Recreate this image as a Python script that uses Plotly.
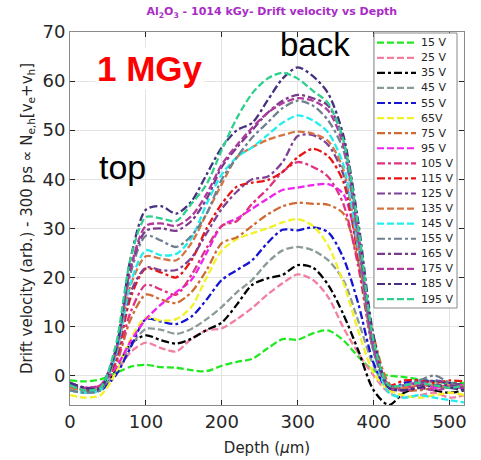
import plotly.graph_objects as go

# ---------------- data ----------------
depth = [0, 20, 40, 60, 80, 100, 120, 140, 160, 180, 200, 220, 240, 260,
         280, 300, 320, 340, 360, 380, 400, 420, 440, 460, 480, 500, 520]

labels = ["15 V", "25 V", "35 V", "45 V", "55 V", "65V", "75 V", "95 V", "105 V",
          "115 V", "125 V", "135 V", "145 V", "155 V", "165 V", "175 V", "185 V", "195 V"]

v15 = [-1.0, -1.2, -0.8, 0.5, 1.8, 2.2, 1.7, 1.6, 1.1, 0.9, 2.0, 2.8, 3.4, 5.5, 7.4, 7.3, 8.6, 9.2, 7.2, 3.8, 1.0, 0.0, -0.3, -0.8, -1.2, -1.5, -1.5]
v25 = [-2.5, -3.0, -2.5, 0.5, 4.8, 6.7, 5.6, 4.9, 7.5, 9.2, 9.6, 11.5, 13.8, 16.5, 18.8, 20.6, 19.5, 16.0, 9.8, 4.5, 0.0, -3.5, -4.5, -4.0, -3.5, -4.5, -4.0]
v35 = [-2.0, -2.8, -2.5, 1.0, 6.5, 8.2, 7.2, 6.5, 7.5, 9.3, 10.8, 14.5, 18.5, 19.8, 20.5, 22.5, 22.0, 18.5, 12.5, 5.0, -3.0, -6.0, -3.5, -2.5, -3.0, -3.5, -3.0]
v45 = [-3.0, -3.5, -3.0, 0.5, 6.0, 9.5, 9.3, 8.5, 9.5, 11.5, 14.0, 17.0, 19.5, 23.0, 25.5, 26.2, 25.5, 23.5, 19.5, 11.0, 2.0, -3.0, -2.5, -1.0, -1.5, -2.5, -2.0]
v55 = [-2.0, -3.0, -3.0, 0.0, 5.8, 11.5, 11.0, 10.5, 12.0, 15.5, 19.5, 21.5, 23.5, 27.0, 29.7, 29.6, 30.2, 29.2, 24.0, 14.5, 2.5, -3.0, -1.5, -1.0, -1.2, -1.5, -2.0]
v65 = [-4.0, -4.5, -4.0, 0.5, 7.5, 11.8, 11.2, 11.5, 14.0, 20.0, 25.5, 27.8, 29.0, 30.0, 31.2, 31.9, 30.5, 26.5, 19.0, 9.0, 0.5, -3.0, -4.0, -4.5, -4.0, -3.5, -4.0]
v75 = [-2.5, -3.0, -2.5, 2.0, 11.5, 16.5, 15.5, 14.8, 17.0, 21.5, 27.0, 28.2, 30.5, 32.8, 34.5, 35.2, 35.0, 34.8, 33.0, 23.0, 8.0, -1.5, -3.0, -3.0, -2.5, -2.0, -2.5]
v95 = [-2.0, -2.5, -2.0, 1.5, 7.0, 11.5, 14.5, 17.0, 19.5, 25.0, 30.5, 32.0, 34.0, 36.0, 37.8, 38.3, 38.8, 39.0, 37.0, 25.0, 6.0, -2.0, -2.0, -1.5, -2.5, -2.0, -2.0]
v105 = [-1.5, -2.5, -2.0, 2.5, 13.0, 18.5, 17.5, 16.5, 20.5, 26.0, 30.5, 31.5, 35.0, 38.0, 41.5, 43.5, 42.5, 40.5, 35.0, 22.0, 5.0, -2.0, -2.5, -2.0, -2.0, -2.5, -2.0]
v115 = [-2.0, -2.5, -2.5, 3.0, 16.0, 21.8, 21.0, 20.0, 23.5, 30.0, 35.0, 38.5, 39.3, 39.8, 41.5, 44.5, 46.2, 44.7, 39.5, 24.0, 5.0, -2.0, -1.0, -1.0, -1.5, -1.0, -1.2]
v125 = [-2.0, -3.0, -2.5, 3.5, 17.0, 22.0, 21.5, 21.5, 24.0, 29.0, 34.0, 37.5, 40.0, 40.5, 43.5, 48.8, 49.0, 47.0, 41.0, 25.0, 5.5, -2.5, -2.0, -1.5, -1.0, -1.5, -2.0]
v135 = [-2.5, -3.0, -2.5, 4.0, 18.5, 24.3, 23.8, 23.5, 27.0, 33.0, 39.0, 44.5, 46.5, 48.0, 49.0, 49.7, 49.3, 47.8, 42.0, 25.0, 5.0, -2.0, -2.5, -2.0, -2.0, -2.5, -2.0]
v145 = [-3.0, -3.5, -3.0, 4.0, 19.0, 25.5, 24.5, 24.8, 28.0, 35.0, 41.0, 44.5, 46.5, 49.0, 51.5, 53.0, 52.0, 49.5, 43.0, 26.0, 5.0, -3.5, -4.5, -4.0, -4.5, -5.0, -5.5]
v155 = [-3.0, -3.5, -3.0, 4.5, 21.0, 28.5, 27.5, 26.2, 28.5, 33.0, 40.0, 44.5, 48.5, 51.5, 54.5, 56.0, 55.0, 52.0, 46.0, 27.0, 5.0, -2.0, -2.0, -1.0, 0.0, -1.5, -3.0]
v165 = [-1.5, -2.5, -2.5, 5.0, 22.0, 29.5, 30.0, 29.5, 31.5, 36.0, 42.5, 46.5, 50.0, 53.5, 56.0, 57.2, 56.5, 55.0, 48.0, 29.0, 6.0, -2.0, -3.0, -2.0, -2.0, -2.0, -2.5]
v175 = [-2.0, -2.5, -2.0, 5.0, 22.0, 30.5, 31.0, 30.5, 32.5, 37.0, 43.0, 47.0, 50.5, 53.5, 55.5, 56.5, 56.0, 54.0, 47.0, 28.0, 5.5, -2.5, -3.0, -2.5, -3.0, -2.5, -2.5]
v185 = [-1.5, -2.5, -2.5, 5.0, 24.0, 33.8, 34.5, 33.0, 35.5, 41.0, 46.5, 50.0, 51.5, 56.0, 60.5, 62.8, 61.0, 57.5, 49.0, 31.0, 8.0, -2.5, -3.0, -2.5, -2.0, -2.5, -3.0]
v195 = [-2.0, -3.0, -2.5, 6.0, 24.0, 32.3, 32.0, 31.5, 35.0, 39.0, 46.0, 52.5, 57.5, 60.5, 61.7, 60.5, 58.0, 55.5, 48.0, 30.0, 7.0, -2.0, -2.0, -1.5, -2.0, -2.5, -2.0]

series = [v15, v25, v35, v45, v55, v65, v75, v95, v105, v115, v125, v135,
          v145, v155, v165, v175, v185, v195]

x_ticks = [0, 100, 200, 300, 400, 500]
y_ticks = [0, 10, 20, 30, 40, 50, 60, 70]

# ---------------- styles ----------------
colors = ["#22e822", "#f27fa0", "#000000", "#8c9a9a", "#1414d2", "#f2f226",
          "#cf6a33", "#f022f0", "#de3380", "#e81414", "#7f3f95", "#d47543",
          "#22eef0", "#6f7f8f", "#7a3a8c", "#b03a9c", "#46307f", "#2fcf8f"]
DASH_A = "7px,3px"
DASH_B = "8px,3px,3px,3px"
dashes = [DASH_A, DASH_A, DASH_B, DASH_A, DASH_B, DASH_A, DASH_B, DASH_A, DASH_B,
          DASH_B, DASH_B, DASH_A, DASH_A, DASH_B, DASH_B, DASH_A, DASH_B, DASH_A]

W, H = 481, 460
ML, MR, MT, MB = 70, 17, 32, 55
TXT = "#262626"

fig = go.Figure()
for lab, vals, c, dsh in zip(labels, series, colors, dashes):
    fig.add_trace(go.Scatter(
        x=depth, y=vals, name=lab, mode="lines",
        line=dict(color=c, width=2.3, dash=dsh, shape="spline", smoothing=0.8),
        showlegend=False,
    ))

# ---------------- manual legend (compact, like the original) ----------------
plot_h = H - MT - MB
plot_w = W - ML - MR
def px_to_py(ypx):
    return (H - MB - ypx) / plot_h
def px_to_px(xpx):
    return (xpx - ML) / plot_w

shapes = [dict(type="rect", xref="paper", yref="paper",
               x0=px_to_px(374), x1=px_to_px(457),
               y0=px_to_py(308), y1=px_to_py(33),
               fillcolor="white", line=dict(color="#8a8a8a", width=1), layer="above")]
annotations = []
row0, rowstep = 42.7, 15.08
for i, (lab, c, dsh) in enumerate(zip(labels, colors, dashes)):
    yp = px_to_py(row0 + rowstep * i)
    shapes.append(dict(type="line", xref="paper", yref="paper",
                       x0=px_to_px(377), x1=px_to_px(416), y0=yp, y1=yp,
                       line=dict(color=c, width=2.2, dash=dsh), layer="above"))
    annotations.append(dict(text=lab, xref="paper", yref="paper",
                            x=px_to_px(419), y=yp, xanchor="left", yanchor="middle",
                            showarrow=False, font=dict(family="DejaVu Sans", size=11, color=TXT)))

annotations += [
    dict(text="<b>1 MGy</b>", x=105, y=62.5, xref="x", yref="y", showarrow=False,
         font=dict(family="Liberation Sans", size=35, color="#ff0000"),
         bgcolor="white"),
    dict(text="back", x=323, y=67.5, xref="x", yref="y", showarrow=False,
         font=dict(family="Liberation Sans", size=33, color="#000000")),
    dict(text="top", x=69, y=42.5, xref="x", yref="y", showarrow=False,
         font=dict(family="Liberation Sans", size=34, color="#000000")),
]

axis_common = dict(
    showgrid=True, gridcolor="#e3e3e3", gridwidth=1,
    showline=True, linecolor="#8a8a8a", linewidth=1, mirror="ticks",
    ticks="inside", ticklen=5, tickcolor="#262626",
    zeroline=False, automargin=False,
    tickfont=dict(family="DejaVu Sans", size=18, color=TXT),
)

fig.update_layout(
    width=W, height=H,
    margin=dict(l=ML, r=MR, t=MT, b=MB),
    paper_bgcolor="white", plot_bgcolor="white",
    title=dict(text="<b>Al<sub>2</sub>O<sub>3</sub> - 1014 kGy- Drift velocity vs Depth</b>",
               x=0.565, xanchor="center", y=0.975, yanchor="middle",
               font=dict(family="DejaVu Sans", size=11, color="#a82cc6")),
    xaxis=dict(range=[0, 519], tickvals=x_ticks,
               title=dict(text="Depth (<i>μ</i>m)", standoff=11,
                          font=dict(family="DejaVu Sans", size=15, color=TXT)),
               **axis_common),
    yaxis=dict(range=[-6, 70], tickvals=y_ticks,
               title=dict(text="Drift velocity (arb.) - 300 ps ∝ N<sub>e,h</sub>[v<sub>e</sub>+v<sub>h</sub>]",
                          standoff=6,
                          font=dict(family="DejaVu Sans", size=15, color=TXT)),
               **axis_common),
    shapes=shapes,
    annotations=annotations,
    showlegend=False,
)

fig.write_html("out.html")
